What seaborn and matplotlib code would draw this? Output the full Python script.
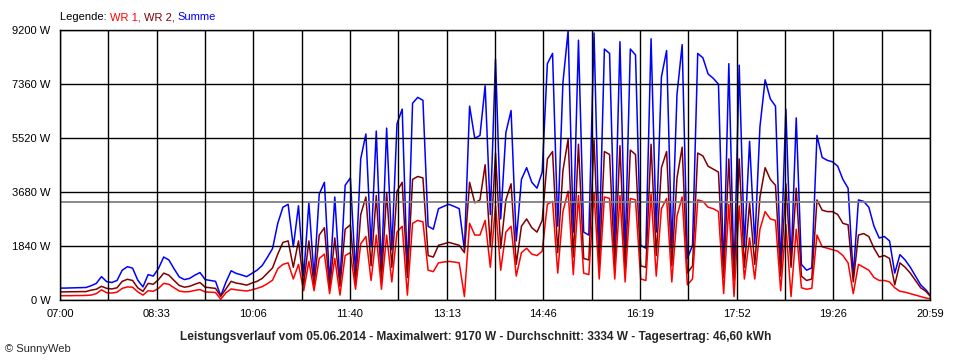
import numpy as np
import pandas as pd
import matplotlib
matplotlib.use("Agg")
import matplotlib.pyplot as plt
import seaborn as sns

sns.set_style("white")
plt.rcParams['font.family'] = ['Liberation Sans', 'DejaVu Sans']

# minutes after 07:00, 5 min steps, last point 20:59
minutes = np.append(np.arange(0, 836, 5), 839)

# WR 1 (red), watts
wr1 = [130, 130, 130, 135, 135, 140,
       150, 200, 330, 230, 220, 250,
       380, 430, 420, 260, 150, 300,
       280, 380, 550, 520, 400, 290,
       260, 270, 310, 340, 260, 250,
       240, 10, 230, 360, 330, 310,
       290, 330, 380, 440, 540, 660,
       1050, 1200, 1250, 700, 1200, 300,
       1300, 300, 1400, 1550, 200, 1400,
       150, 1500, 1600, 350, 1900, 2150,
       650, 2200, 350, 2200, 600, 2300,
       2500, 150, 2600, 2700, 2650, 1000,
       950, 1250, 1280, 1300, 1280, 1250,
       100, 2600, 2200, 2200, 2700, 1100,
       3200, 1000, 2300, 2500, 800, 1600,
       1750, 1550, 1500, 1650, 3250, 3350,
       900, 3000, 3700, 850, 3550, 900,
       850, 3650, 700, 3500, 3450, 700,
       3550, 600, 3450, 3400, 700, 650,
       3600, 800, 3100, 3450, 600, 2850,
       3500, 500, 700, 3400, 3350, 3150,
       3100, 3000, 200, 3250, 100, 3200,
       700, 2100, 700, 2400, 3000, 2750,
       2700, 300, 2550, 100, 2400, 400,
       350, 380, 2200, 1800, 1750, 1700,
       1650, 1500, 1250, 200, 1200, 1100,
       1000, 750, 650, 650, 600, 400,
       280, 250, 200, 150, 100, 50,
       30]

# WR 2 (dark red), watts
wr2 = [260, 260, 265, 265, 270, 270,
       320, 350, 450, 380, 360, 400,
       620, 690, 650, 400, 280, 550,
       520, 680, 900, 830, 650, 480,
       420, 450, 520, 580, 420, 400,
       380, 110, 360, 620, 560, 530,
       490, 560, 620, 720, 900, 1080,
       1550, 1950, 2000, 1100, 2000, 500,
       2000, 480, 2200, 2450, 360, 2100,
       450, 2400, 2550, 550, 2900, 3500,
       1150, 3550, 650, 3650, 1100, 3700,
       4000, 750, 4100, 4200, 4150, 1500,
       1450, 1850, 1900, 1950, 1900, 1850,
       1600, 4000, 3300, 3400, 4600, 1800,
       5000, 1750, 3400, 3950, 1200, 2500,
       2750, 2450, 2300, 2700, 4800, 5050,
       1600, 4400, 5470, 1450, 5300, 1400,
       1350, 5450, 1100, 5050, 4950, 1150,
       5250, 1000, 5100, 4950, 1150, 1100,
       5300, 1500, 4500, 5050, 1150, 4150,
       5200, 900, 1150, 5000, 4900, 4550,
       4450, 4350, 750, 4800, 650, 4800,
       1100, 3300, 1200, 3500, 4500, 4100,
       3900, 800, 3950, 1100, 3800, 800,
       650, 700, 3400, 3050, 3000, 3000,
       2900, 2600, 2550, 600, 2200, 2250,
       2150, 1750, 1450, 1500, 1400, 500,
       1250, 1100, 900, 650, 400, 280,
       120]

summe = np.array(wr1) + np.array(wr2)

tick_labels = ['07:00', '08:33', '10:06', '11:40', '13:13',
               '14:46', '16:19', '17:52', '19:26', '20:59']
y_ticks = [0, 1840, 3680, 5520, 7360, 9200]
average = 3334

n = len(minutes)
df = pd.DataFrame({
    'minute': np.tile(minutes, 3),
    'watt': np.concatenate([summe, wr2, wr1]),
    'serie': ['Summe'] * n + ['WR 2'] * n + ['WR 1'] * n,
})
colors = {'Summe': '#0000ff', 'WR 2': '#800000', 'WR 1': '#ff0000'}

fig = plt.figure(figsize=(9.6, 3.6), dpi=100)
ax = fig.add_axes([60 / 960, 1 - 299.5 / 360, 870 / 960, 269.5 / 360])

sns.lineplot(data=df, x='minute', y='watt', hue='serie',
             hue_order=['Summe', 'WR 2', 'WR 1'], palette=colors,
             estimator=None, sort=False, legend=False, linewidth=1.1, ax=ax)

ax.axhline(average, color='#808080', lw=1.3, zorder=2.2)

ax.set_xlim(0, 839)
ax.set_ylim(0, 9200)
grid_x = np.linspace(0, 839, 19)
ax.set_xticks(grid_x)
ax.set_xticklabels([tick_labels[k // 2] if k % 2 == 0 else '' for k in range(19)])
ax.set_yticks(y_ticks)
ax.set_yticklabels([f'{v} W' for v in y_ticks])
ax.set_xlabel('')
ax.set_ylabel('')

ax.grid(True, color='black', lw=1.0)
ax.set_axisbelow(False)
ax.tick_params(direction='out', length=4, width=1, color='black',
               labelsize=8, pad=3, labelcolor='black')
for s in ax.spines.values():
    s.set_visible(True)
    s.set_color('black')
    s.set_linewidth(1.0)

# legend line on top
fig.canvas.draw()
r = fig.canvas.get_renderer()
x0 = 60 / 960
y0 = 1 - 17 / 360
for txt, col in [('Legende: ', 'black'), ('WR 1, ', '#ff0000'),
                 ('WR 2, ', '#800000'), ('Summe', '#0000ff')]:
    t = fig.text(x0, y0, txt, color=col, fontsize=8, va='center', ha='left')
    bb = t.get_window_extent(renderer=r)
    x0 += bb.width / 960

fig.text(0.496, 1 - 337 / 360,
         'Leistungsverlauf vom 05.06.2014 - Maximalwert: 9170 W - '
         'Durchschnitt: 3334 W - Tagesertrag: 46,60 kWh',
         ha='center', va='center', fontsize=8.6, fontweight='bold')
fig.text(5 / 960, 1 - 349 / 360, '\u00a9 SunnyWeb', fontsize=8, va='center')

fig.savefig('out.png', dpi=100)
